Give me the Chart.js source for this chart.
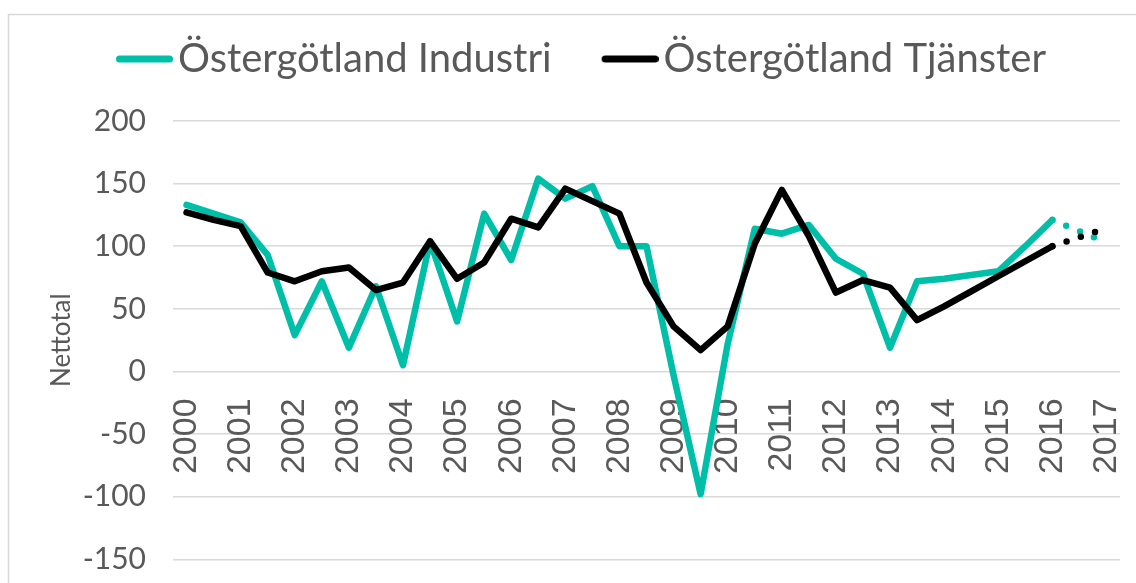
<!DOCTYPE html>
<html><head><meta charset="utf-8">
<script src="https://cdn.jsdelivr.net/npm/chart.js@4/dist/chart.umd.min.js"></script>
<style>html,body{margin:0;padding:0;background:#fff}</style>
</head><body>
<canvas id="c" width="1136" height="583"></canvas>
<script>
const categories = ['2000','','2001','','2002','','2003','','2004','','2005','','2006','','2007','','2008','','2009','','2010','','2011','','2012','','2013','','2014','','2015','','2016','','2017'];
const industri = [133,126,119,93,29,72,19,68,5,104,40,126,89,154,138,148,100,100,-3,-98,22,114,110,117,90,78,19,72,74,77,80,100,121,null,null];
const tjanster = [127,121,116,79,72,80,83,65,71,104,74,87,122,115,146,136,126,71,36,17,36,102,145,108,63,73,67,41,52,64,76,88,100,null,null];
const industriPrognos = [null,null,null,null,null,null,null,null,null,null,null,null,null,null,null,null,null,null,null,null,null,null,null,null,null,null,null,null,null,null,null,null,121,null,103];
const tjansterPrognos = [null,null,null,null,null,null,null,null,null,null,null,null,null,null,null,null,null,null,null,null,null,null,null,null,null,null,null,null,null,null,null,null,100,null,114.5];
const seriesNames = ['Östergötland Industri','Östergötland Tjänster'];
const yMin = -150, yMax = 200, yStep = 50;

const TEAL = '#00bfa8', BLACK = '#000000', TXT = '#595959';

function swatch(color){
  const c = document.createElement('canvas');
  c.width = 114; c.height = 10;
  const g = c.getContext('2d');
  g.strokeStyle = color; g.lineWidth = 7; g.lineCap = 'round';
  g.beginPath(); g.moveTo(57 + 3.5, 5); g.lineTo(114 - 3.5, 5); g.stroke();
  return c;
}

const frame = {
  id: 'frame',
  beforeDraw(chart){
    const ctx = chart.ctx;
    ctx.save();
    ctx.fillStyle = '#fff';
    ctx.fillRect(0,0,chart.width,chart.height);
    ctx.strokeStyle = '#d9d9d9';
    ctx.lineWidth = 1.5;
    ctx.strokeRect(8.5, 14.5, chart.width + 20, chart.height + 20);
    ctx.restore();
  }
};
const legendSpace = {
  id: 'legendSpace',
  beforeInit(chart){
    const orig = chart.legend.fit;
    chart.legend.fit = function(){ orig.call(this); this.height += 32; };
  }
};

const lineBase = {pointRadius: 0, tension: 0, borderWidth: 6.5, borderJoinStyle: 'round', borderCapStyle: 'round', fill: false};

new Chart(document.getElementById('c'), {
  type: 'line',
  data: {
    labels: categories,
    datasets: [
      Object.assign({label: seriesNames[0], data: industri, borderColor: TEAL, backgroundColor: TEAL, order: 1, showInLegend: true}, lineBase),
      Object.assign({label: seriesNames[1], data: tjanster, borderColor: BLACK, backgroundColor: BLACK, order: 0, showInLegend: true}, lineBase),
      Object.assign({label: 'Industri prognos', data: industriPrognos, borderColor: TEAL, order: 1, spanGaps: true, borderDash: [0, 15]}, lineBase),
      Object.assign({label: 'Tjänster prognos', data: tjansterPrognos, borderColor: BLACK, order: 0, spanGaps: true, borderDash: [0, 15]}, lineBase)
    ]
  },
  options: {
    responsive: false,
    animation: false,
    devicePixelRatio: 1,
    events: [],
    layout: {padding: {top: 31, left: 0, right: 16, bottom: 23.7}},
    plugins: {
      tooltip: {enabled: false},
      legend: {
        position: 'top',
        labels: {
          usePointStyle: true,
          pointStyleWidth: 84,
          padding: 8,
          color: TXT,
          font: {family: 'Lato', size: 40},
          generateLabels(chart){
            return chart.data.datasets.map((ds, i) => ({ds, i})).filter(o => o.ds.showInLegend).map(o => ({
              text: o.ds.label, fillStyle: o.ds.borderColor, strokeStyle: o.ds.borderColor, lineWidth: 0,
              pointStyle: swatch(o.ds.borderColor), hidden: false, datasetIndex: o.i, fontColor: TXT
            }));
          }
        }
      }
    },
    scales: {
      x: {
        type: 'category',
        offset: true,
        position: {y: 0},
        afterFit(s){ s.height = 0; s.paddingLeft = 0; s.paddingRight = 0; s.paddingTop = 0; s.paddingBottom = 0; },
        grid: {display: false, drawTicks: false},
        border: {display: false},
        ticks: {autoSkip: false, minRotation: 90, maxRotation: 90, padding: 27, color: TXT, font: {family: 'Liberation Sans', size: 34}}
      },
      y: {
        min: yMin, max: yMax,
        afterFit(s){ s.width = 173; s.paddingTop = 0; s.paddingBottom = 0; },
        grid: {color: '#d9d9d9', lineWidth: 1.5, drawTicks: false},
        border: {display: false},
        ticks: {stepSize: yStep, padding: 27, color: TXT, font: {family: 'Lato', size: 30}},
        title: {display: true, text: 'Nettotal', color: TXT, font: {family: 'Lato', size: 26}, padding: {top: 46.4, bottom: 0}}
      }
    }
  },
  plugins: [frame, legendSpace]
});
</script>
</body></html>
